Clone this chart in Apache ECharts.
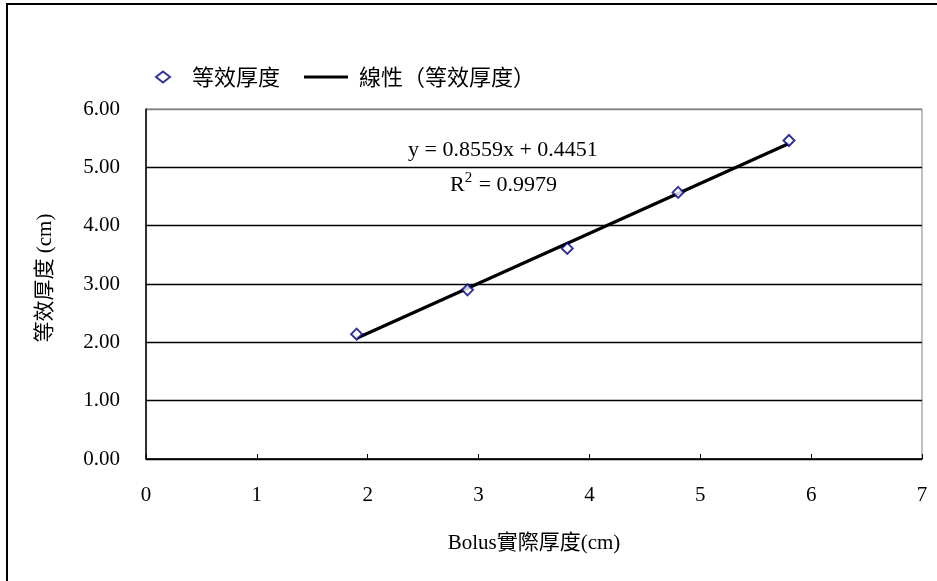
<!DOCTYPE html>
<html><head><meta charset="utf-8">
<script src="https://cdn.jsdelivr.net/npm/echarts@6/dist/echarts.min.js"></script>
<style>html,body{margin:0;padding:0;background:#fff}#c{width:937px;height:581px}</style>
</head><body><div id="c"></div>
<script>
const bolusX = [1.9, 2.9, 3.8, 4.8, 5.8];
const equivY = [2.14, 2.90, 3.61, 4.57, 5.46];
const trendX = [1.9, 5.8];
const trendY = [2.07, 5.41];
const xTicks = [0, 1, 2, 3, 4, 5, 6, 7];
const yTicks = ['0.00','1.00','2.00','3.00','4.00','5.00','6.00'];
const seriesNames = ['等效厚度', '線性（等效厚度）'];
const eqText = 'y = 0.8559x + 0.4451';
const r2Value = '0.9979';

const serif = '"Liberation Serif", "Times New Roman", "Noto Sans CJK TC", serif';
const cjk = '"Noto Sans CJK TC", "Liberation Serif", serif';
const chart = echarts.init(document.getElementById('c'));
const opt = {
  animation: false,
  backgroundColor: '#fff',
  grid: { left: 146, right: 15, top: 109, bottom: 122, show: true, borderColor: '#808080', borderWidth: 1 },
  legend: [
    { data: [seriesNames[0]], left: 155, top: 66, padding: 0, itemWidth: 14, itemHeight: 11,
      textStyle: { fontFamily: cjk, fontSize: 22, color: '#000', padding: [0,0,0,17] } },
    { data: [{ name: seriesNames[1], icon: 'rect' }], left: 304, top: 66, padding: 0, itemWidth: 44, itemHeight: 3,
      itemStyle: { color: '#000', borderWidth: 0 },
      textStyle: { fontFamily: cjk, fontSize: 22, color: '#000', padding: [0,0,0,6] } }
  ],
  xAxis: {
    type: 'value', min: xTicks[0], max: xTicks[xTicks.length-1], interval: 1,
    name: 'Bolus實際厚度(cm)', nameLocation: 'middle', nameGap: 74,
    nameTextStyle: { fontFamily: serif, fontSize: 21, color: '#000' },
    axisLine: { show: true, lineStyle: { color: '#000', width: 1.5 } },
    axisTick: { show: true, inside: true, length: 5, lineStyle: { color: '#000' } },
    axisLabel: { fontFamily: serif, fontSize: 21, color: '#000', margin: 26 },
    splitLine: { show: false }
  },
  yAxis: {
    type: 'value', min: 0, max: 6, interval: 1,
    name: '等效厚度 (cm)', nameLocation: 'middle', nameGap: 90, nameRotate: 90,
    nameTextStyle: { fontFamily: serif, fontSize: 21, color: '#000', padding: [0,0,0,12] },
    axisLine: { show: true, lineStyle: { color: '#000', width: 1.5 } },
    axisTick: { show: false },
    axisLabel: { fontFamily: serif, fontSize: 21, color: '#000', margin: 26,
      formatter: v => yTicks[Math.round(v)] },
    splitLine: { show: true, lineStyle: { color: ['#000','#000','#000','#000','#000','#000','#808080'], width: 1.3 } }
  },
  series: [
    { name: seriesNames[1], type: 'line', data: trendX.map((x,i)=>[x, trendY[i]]),
      symbol: 'none', lineStyle: { color: '#000', width: 3.2 }, itemStyle: { color: '#000' }, z: 2 },
    { name: seriesNames[0], type: 'scatter', data: bolusX.map((x,i)=>[x, equivY[i]]),
      symbol: 'emptyDiamond', symbolSize: 11,
      itemStyle: { color: '#000080', borderColor: '#000080', borderWidth: 1.6 }, z: 3 }
  ],
  graphic: [
    { type: 'rect', shape: { x: 7, y: 4, width: 960, height: 620 }, style: { fill: 'none', stroke: '#000', lineWidth: 2 }, silent: true },
    { type: 'text', left: 408, top: 139, style: { text: eqText, font: '22px ' + serif, fill: '#000' } },
    { type: 'text', left: 450, top: 171, style: {
        text: '{b|R}{s|2}{b| = ' + r2Value + '}',
        rich: { b: { fontFamily: serif, fontSize: 22, color: '#000' },
                s: { fontFamily: serif, fontSize: 15, color: '#000', padding: [0,1,13,0] } } } }
  ]
};
chart.setOption(opt);
</script></body></html>
